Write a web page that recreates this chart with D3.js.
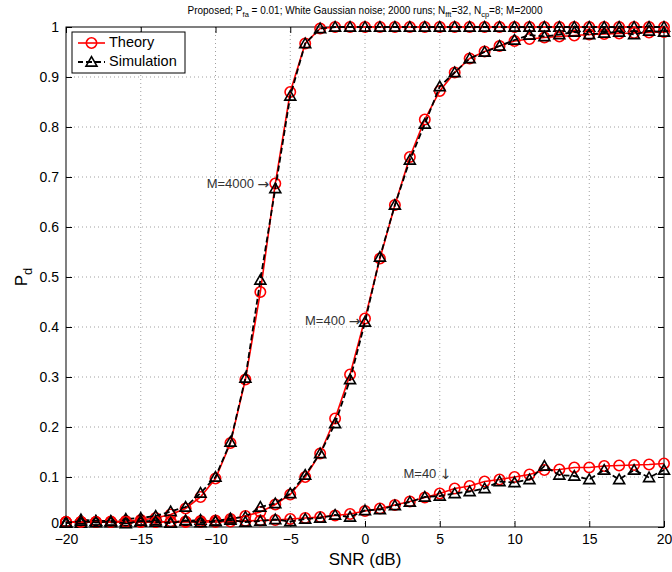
<!DOCTYPE html>
<html>
<head>
<meta charset="utf-8">
<script src="https://cdn.jsdelivr.net/npm/d3@7"></script>
<style>
  body { margin: 0; background: #fff; }
  svg { font-family: "Liberation Sans", Arial, Helvetica, sans-serif; }
</style>
</head>
<body>
<svg id="chart" width="672" height="572"></svg>
<script>
// ---- data ----
const snr = d3.range(-20, 21, 1);
const xTicks = [-20, -15, -10, -5, 0, 5, 10, 15, 20];
const yTicks = [0, 0.1, 0.2, 0.3, 0.4, 0.5, 0.6, 0.7, 0.8, 0.9, 1];
const yTickLabels = ["0", "0.1", "0.2", "0.3", "0.4", "0.5", "0.6", "0.7", "0.8", "0.9", "1"];

const theoryM4000 = [0.01,0.01,0.01,0.011,0.012,0.014,0.018,0.025,0.037,0.06,0.097,0.168,0.295,0.47,0.687,0.87,0.967,0.997,1,1,1,1,1,1,1,1,1,1,1,1,1,1,1,1,1,1,1,1,1,1,1];
const simM4000    = [0.008,0.015,0.012,0.012,0.016,0.018,0.022,0.031,0.04,0.068,0.1,0.17,0.298,0.494,0.677,0.862,0.967,0.997,1,1,1,1,1,1,1,1,1,1,1,1,1,1,1,1,1,1,1,1,1,1,1];

const theoryM400 = [0.01,0.01,0.01,0.01,0.01,0.01,0.01,0.011,0.011,0.012,0.013,0.016,0.022,0.03,0.045,0.065,0.1,0.147,0.217,0.305,0.417,0.537,0.644,0.74,0.815,0.872,0.909,0.937,0.951,0.962,0.972,0.976,0.979,0.981,0.983,0.985,0.986,0.987,0.988,0.989,0.99];
const simM400    = [0.01,0.008,0.012,0.009,0.011,0.01,0.013,0.009,0.012,0.014,0.012,0.017,0.02,0.04,0.047,0.067,0.104,0.147,0.207,0.295,0.41,0.54,0.644,0.734,0.806,0.881,0.909,0.937,0.95,0.962,0.974,0.984,0.981,0.985,0.99,0.985,0.988,0.99,0.985,0.992,0.99];

const theoryM40 = [0.01,0.01,0.01,0.01,0.01,0.01,0.01,0.01,0.01,0.01,0.01,0.011,0.012,0.013,0.014,0.016,0.018,0.02,0.023,0.026,0.032,0.037,0.044,0.051,0.059,0.067,0.077,0.082,0.091,0.095,0.1,0.105,0.114,0.115,0.119,0.119,0.122,0.123,0.124,0.125,0.127];
const simM40    = [0.008,0.012,0.009,0.011,0.007,0.012,0.01,0.008,0.013,0.009,0.011,0.014,0.01,0.012,0.015,0.011,0.016,0.018,0.024,0.02,0.033,0.035,0.043,0.05,0.06,0.062,0.067,0.071,0.077,0.091,0.089,0.095,0.122,0.104,0.102,0.095,0.114,0.095,0.114,0.099,0.114];

const curves = [
  { theory: theoryM4000, sim: simM4000 },
  { theory: theoryM400,  sim: simM400 },
  { theory: theoryM40,   sim: simM40 }
];

const annotations = [
  { label: "M=4000 ", arrow: "\u2192", x: -6.4, y: 0.685 },
  { label: "M=400 ",  arrow: "\u2192", x: -0.3, y: 0.41 },
  { label: "M=40 ",   arrow: "\u2193", x: 5.8,  y: 0.105 }
];

// ---- layout ----
const svg = d3.select("#chart");
const L = 66, R = 664, T = 27, B = 527;
const x = d3.scaleLinear().domain([-20, 20]).range([L, R]);
const y = d3.scaleLinear().domain([0, 1]).range([B, T]);

// grid
const grid = svg.append("g");
grid.selectAll("line.gx").data(xTicks.slice(1, -1)).enter().append("line")
  .attr("x1", d => x(d)).attr("x2", d => x(d)).attr("y1", T).attr("y2", B)
  .attr("stroke", "#888").attr("stroke-width", 0.8).attr("stroke-dasharray", "1,3");
grid.selectAll("line.gy").data(yTicks.slice(1, -1)).enter().append("line")
  .attr("x1", L).attr("x2", R).attr("y1", d => y(d)).attr("y2", d => y(d))
  .attr("stroke", "#888").attr("stroke-width", 0.8).attr("stroke-dasharray", "1,3");

// axes (ticks inside, MATLAB box)
const xAxisB = d3.axisBottom(x).tickValues(xTicks).tickSizeInner(-6).tickSizeOuter(0)
  .tickFormat(d => (d < 0 ? "\u2212" + Math.abs(d) : d));
const xAxisT = d3.axisTop(x).tickValues(xTicks).tickSizeInner(-6).tickSizeOuter(0).tickFormat("");
const yAxisL = d3.axisLeft(y).tickValues(yTicks).tickSizeInner(-6).tickSizeOuter(0)
  .tickFormat((d, i) => yTickLabels[i]);
const yAxisR = d3.axisRight(y).tickValues(yTicks).tickSizeInner(-6).tickSizeOuter(0).tickFormat("");

function styleAxis(g) {
  g.select(".domain").remove();
  g.selectAll(".tick line").attr("stroke", "#000");
  g.selectAll("text").attr("fill", "#000").style("font-size", "14px")
    .style("font-family", "'Liberation Sans', Arial, sans-serif");
}
svg.append("g").attr("transform", `translate(0,${B})`).call(xAxisB).call(styleAxis)
  .selectAll("text").attr("y", 7).attr("dy", "0.71em");
svg.append("g").attr("transform", `translate(0,${T})`).call(xAxisT).call(styleAxis);
const yl0 = svg.append("g").attr("transform", `translate(${L},0)`).call(yAxisL).call(styleAxis);
yl0.selectAll("text").attr("x", -7);
yl0.selectAll(".tick").filter(d => d === 0).select("text").attr("dy", "0.0em");
svg.append("g").attr("transform", `translate(${R},0)`).call(yAxisR).call(styleAxis);

// frame
svg.append("rect").attr("x", L).attr("y", T).attr("width", R - L).attr("height", B - T)
  .attr("fill", "none").attr("stroke", "#000").attr("stroke-width", 1);

// curves
const line = d3.line().x((d, i) => x(snr[i])).y(d => y(d));
const tri = d3.symbol().type(d3.symbolTriangle).size(52);
const plot = svg.append("g");

curves.forEach(c => {
  plot.append("path").datum(c.theory).attr("d", line)
    .attr("fill", "none").attr("stroke", "#ff0000").attr("stroke-width", 1.6);
  plot.append("g").selectAll("circle").data(c.theory).enter().append("circle")
    .attr("cx", (d, i) => x(snr[i])).attr("cy", d => y(d)).attr("r", 5.2)
    .attr("fill", "none").attr("stroke", "#ff0000").attr("stroke-width", 1.6);
  plot.append("path").datum(c.sim).attr("d", line)
    .attr("fill", "none").attr("stroke", "#000").attr("stroke-width", 1.8)
    .attr("stroke-dasharray", "6,3");
  plot.append("g").selectAll("path").data(c.sim).enter().append("path")
    .attr("d", tri)
    .attr("transform", (d, i) => `translate(${x(snr[i])},${y(d) + 1})`)
    .attr("fill", "none").attr("stroke", "#000").attr("stroke-width", 1.6);
});

// annotations
const ann = svg.append("g").selectAll("text").data(annotations).enter().append("text")
  .attr("x", d => x(d.x)).attr("y", d => y(d.y)).attr("text-anchor", "end")
  .attr("dominant-baseline", "middle")
  .style("font-size", "13px").attr("fill", "#333");
ann.append("tspan").text(d => d.label);
ann.append("tspan").style("font-family", "'DejaVu Sans', sans-serif").style("font-size", "14px")
  .text(d => d.arrow);

// legend
const lg = svg.append("g");
lg.append("rect").attr("x", 72).attr("y", 32).attr("width", 113).attr("height", 41)
  .attr("fill", "#fff").attr("stroke", "#000").attr("stroke-width", 1);
lg.append("line").attr("x1", 78).attr("x2", 105).attr("y1", 43).attr("y2", 43)
  .attr("stroke", "#ff0000").attr("stroke-width", 1.6);
lg.append("circle").attr("cx", 91.5).attr("cy", 43).attr("r", 5.2)
  .attr("fill", "none").attr("stroke", "#ff0000").attr("stroke-width", 1.6);
lg.append("line").attr("x1", 78).attr("x2", 105).attr("y1", 62).attr("y2", 62)
  .attr("stroke", "#000").attr("stroke-width", 1.8).attr("stroke-dasharray", "6,3")
  .attr("stroke-dashoffset", 1);
lg.append("path").attr("d", tri).attr("transform", "translate(91.5,63)")
  .attr("fill", "none").attr("stroke", "#000").attr("stroke-width", 1.6);
lg.append("text").attr("x", 109).attr("y", 43).attr("dominant-baseline", "middle")
  .style("font-size", "14.5px").text("Theory");
lg.append("text").attr("x", 109).attr("y", 62).attr("dominant-baseline", "middle")
  .style("font-size", "14.5px").text("Simulation");

// title
const title = svg.append("text").attr("x", (L + R) / 2).attr("y", 14)
  .attr("text-anchor", "middle").style("font-size", "10px").attr("fill", "#000");
title.append("tspan").text("Proposed; P");
title.append("tspan").attr("dy", 3).style("font-size", "7.5px").text("fa");
title.append("tspan").attr("dy", -3).text(" = 0.01; White Gaussian noise; 2000 runs; N");
title.append("tspan").attr("dy", 3).style("font-size", "7.5px").text("fft");
title.append("tspan").attr("dy", -3).text("=32, N");
title.append("tspan").attr("dy", 3).style("font-size", "7.5px").text("cp");
title.append("tspan").attr("dy", -3).text("=8; M=2000");

// axis labels
svg.append("text").attr("x", (L + R) / 2).attr("y", 565).attr("text-anchor", "middle")
  .style("font-size", "17px").text("SNR (dB)");
const yl = svg.append("text").attr("transform", `translate(27,${(T + B) / 2}) rotate(-90)`)
  .attr("text-anchor", "middle").style("font-size", "17px");
yl.append("tspan").text("P");
yl.append("tspan").attr("dy", 5).style("font-size", "13px").text("d");
</script>
</body>
</html>
